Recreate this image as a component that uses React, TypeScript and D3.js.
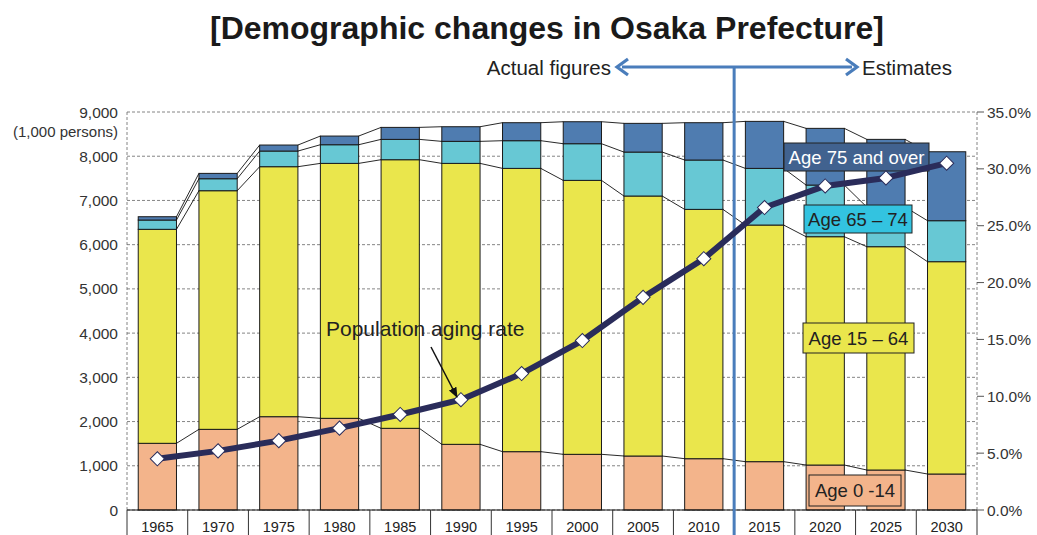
import * as d3 from "d3";

// population by age group (1,000 persons)
const years = ["1965", "1970", "1975", "1980", "1985", "1990", "1995", "2000", "2005", "2010", "2015", "2020", "2025", "2030"];
const age0to14 = [1508, 1824, 2110, 2073, 1847, 1485, 1319, 1259, 1221, 1160, 1093, 1017, 904, 814];
const age15to64 = [4839, 5396, 5653, 5765, 6074, 6353, 6406, 6195, 5879, 5638, 5351, 5163, 5050, 4801];
const age65to74 = [210, 271, 354, 422, 460, 498, 626, 829, 994, 1116, 1281, 1168, 897, 927];
const age75over = [75, 121, 136, 196, 271, 331, 407, 497, 649, 844, 1063, 1282, 1530, 1559];
// population aging rate (%)
const agingRate = [4.5, 5.2, 6.1, 7.2, 8.4, 9.7, 12.0, 14.9, 18.7, 22.1, 26.6, 28.5, 29.2, 30.5];

const leftTicks = [0, 1000, 2000, 3000, 4000, 5000, 6000, 7000, 8000, 9000];
const rightTicks = [0, 5, 10, 15, 20, 25, 30, 35];

const keys = ["a0", "a15", "a65", "a75"];
const colors = ["#F3B48B", "#EAE64C", "#67C8D4", "#4F7CB0"];

const FONT = "'Liberation Sans', Arial, Helvetica, sans-serif";

export default function App() {
  const W = 1037, H = 535;
  const left = 127, right = 977, top = 112, bottom = 510;

  const x = d3.scaleBand<string>().domain(years).range([left, right]).paddingInner(0.37).paddingOuter(0.185);
  const y = d3.scaleLinear().domain([0, 9000]).range([bottom, top]);
  const yR = d3.scaleLinear().domain([0, 35]).range([bottom, top]);
  const bw = x.bandwidth();
  const step = x.step();

  const table = years.map((yr, i) => ({
    year: yr,
    a0: age0to14[i],
    a15: age15to64[i],
    a65: age65to74[i],
    a75: age75over[i],
  }));
  const layers = d3.stack<any>().keys(keys)(table);

  const line = d3
    .line<number>()
    .x((_, i) => x(years[i])! + bw / 2)
    .y((v) => yR(v));

  const diamond = d3.symbol(d3.symbolSquare, 100)()!;
  const lineX = left + step * 10; // actual / estimate split
  const blue = "#4A7DBB";

  const labels = [
    { text: "Age 75 and over", x: 784, y: 143, w: 145, h: 28, fill: "#41628F", color: "#fff" },
    { text: "Age 65 \u2013 74", x: 804, y: 205, w: 108, h: 28, fill: "#33C3E0", color: "#222" },
    { text: "Age 15 \u2013 64", x: 803, y: 323, w: 111, h: 30, fill: "#EAE64C", color: "#222" },
    { text: "Age 0 -14", x: 809, y: 475, w: 92, h: 31, fill: "#F3B48B", color: "#222" },
  ];

  return (
    <svg width={W} height={H} style={{ position: "absolute", left: 0, top: 0, display: "block" }} fontFamily={FONT}>
      <rect width={W} height={H} fill="#fff" />

      {/* title */}
      <text x={547} y={39} textAnchor="middle" fontSize={32} fontWeight="bold" fill="#1a1a1a">
        [Demographic changes in Osaka Prefecture]
      </text>

      {/* grid */}
      {leftTicks.map((t) => (
        <line key={t} x1={left} x2={right} y1={y(t)} y2={y(t)} stroke="#666" strokeWidth={0.8} strokeDasharray="3,2" />
      ))}
      <line x1={left} x2={left} y1={top} y2={bottom} stroke="#666" strokeWidth={0.8} strokeDasharray="3,2" />
      <line x1={right} x2={right} y1={top} y2={bottom} stroke="#666" strokeWidth={0.8} strokeDasharray="3,2" />

      {/* bars */}
      {layers.map((layer, li) => (
        <g key={li}>
          {layer.map((d, i) => (
            <rect
              key={i}
              x={x(years[i])}
              y={y(d[1])}
              width={bw}
              height={y(d[0]) - y(d[1])}
              fill={colors[li]}
              stroke="#1a1a1a"
              strokeWidth={1}
            />
          ))}
        </g>
      ))}

      {/* series lines between bars */}
      {layers.map((layer, li) => (
        <g key={"s" + li}>
          {layer.slice(0, -1).map((d, i) => (
            <line
              key={i}
              x1={x(years[i])! + bw}
              y1={y(d[1])}
              x2={x(years[i + 1])}
              y2={y(layer[i + 1][1])}
              stroke="#111"
              strokeWidth={0.9}
            />
          ))}
        </g>
      ))}

      {/* x axis */}
      <line x1={left} x2={right} y1={bottom} y2={bottom} stroke="#111" strokeWidth={1.2} />
      {d3.range(0, years.length + 1).map((i) => (
        <line key={i} x1={left + i * step} x2={left + i * step} y1={bottom} y2={H} stroke="#333" strokeWidth={1} />
      ))}
      {years.map((yr) => (
        <text key={yr} x={x(yr)! + bw / 2} y={532} textAnchor="middle" fontSize={14.5} fill="#222">
          {yr}
        </text>
      ))}

      {/* left axis labels */}
      {leftTicks.map((t) => (
        <text key={t} x={118} y={y(t) + 5.5} textAnchor="end" fontSize={15.5} fill="#333">
          {d3.format(",")(t)}
        </text>
      ))}
      <text x={118} y={137} textAnchor="end" fontSize={15} fill="#333">
        (1,000 persons)
      </text>

      {/* right axis */}
      {rightTicks.map((t) => (
        <g key={t}>
          <line x1={right} x2={right + 7} y1={yR(t)} y2={yR(t)} stroke="#555" strokeWidth={1} />
          <text x={987} y={yR(t) + 5.5} fontSize={15.5} fill="#333">
            {t.toFixed(1)}%
          </text>
        </g>
      ))}

      {/* actual / estimate divider */}
      <line x1={lineX} x2={lineX} y1={67} y2={H} stroke={blue} strokeWidth={3} />
      <line x1={622} x2={852} y1={67} y2={67} stroke={blue} strokeWidth={3} />
      <path d="M628,59 L617,67 L628,75" fill="none" stroke={blue} strokeWidth={3.2} strokeLinejoin="miter" />
      <path d="M846,59 L857,67 L846,75" fill="none" stroke={blue} strokeWidth={3.2} strokeLinejoin="miter" />
      <text x={611} y={74.5} textAnchor="end" fontSize={20.5} fill="#222">
        Actual figures
      </text>
      <text x={862} y={74.5} fontSize={20.5} fill="#222">
        Estimates
      </text>

      {/* group labels */}
      {labels.map((l) => (
        <g key={l.text}>
          <rect x={l.x} y={l.y} width={l.w} height={l.h} fill={l.fill} stroke="#222" strokeWidth={1} />
          <text x={l.x + l.w / 2} y={l.y + l.h / 2 + 6.5} textAnchor="middle" fontSize={18.5} fill={l.color}>
            {l.text}
          </text>
        </g>
      ))}

      {/* aging rate */}
      <path d={line(agingRate)!} fill="none" stroke="#2A2C5A" strokeWidth={6} strokeLinejoin="round" />
      {agingRate.map((v, i) => (
        <path
          key={i}
          d={diamond}
          transform={`translate(${x(years[i])! + bw / 2},${yR(v)}) rotate(45)`}
          fill="#fff"
          stroke="#2A2C5A"
          strokeWidth={1}
        />
      ))}

      {/* annotation */}
      <defs>
        <marker id="ah" viewBox="0 0 10 10" refX="9" refY="5" markerWidth="7" markerHeight="7" orient="auto">
          <path d="M0,1 L10,5 L0,9 z" fill="#111" />
        </marker>
      </defs>
      <text x={326} y={336} fontSize={21} fill="#222">
        Population aging rate
      </text>
      <line x1={431} y1={347} x2={457} y2={397} stroke="#111" strokeWidth={1.5} markerEnd="url(#ah)" />
    </svg>
  );
}
